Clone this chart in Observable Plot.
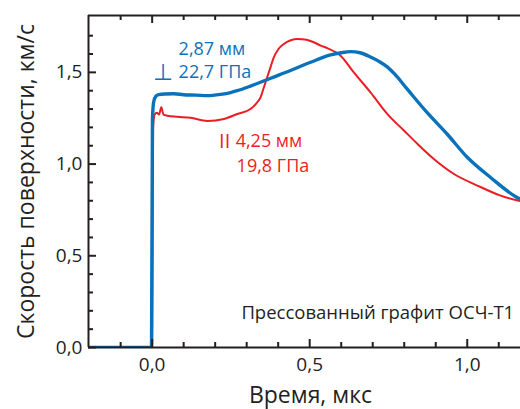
<!DOCTYPE html>
<html>
<head>
<meta charset="utf-8">
<script src="https://cdn.jsdelivr.net/npm/d3@7"></script>
<script src="https://cdn.jsdelivr.net/npm/@observablehq/plot@0.6"></script>
<style>
  html, body { margin: 0; padding: 0; background: #fff; }
  svg { display: block; }
</style>
</head>
<body>
<div id="chart"></div>
<script>
// ---- data ----
const blueTime = [-0.2, -0.1, -0.002, 0.001, 0.005, 0.012, 0.021, 0.04, 0.069, 0.1, 0.14, 0.175, 0.217, 0.249, 0.27, 0.312, 0.376, 0.439, 0.503, 0.566, 0.6, 0.63, 0.66, 0.693, 0.72, 0.746, 0.77, 0.809, 0.873, 0.936, 1.0, 1.074, 1.158, 1.18];
const blueVel  = [0, 0, 0, 1.25, 1.34, 1.37, 1.379, 1.382, 1.383, 1.378, 1.376, 1.373, 1.38, 1.39, 1.40, 1.425, 1.468, 1.51, 1.555, 1.595, 1.607, 1.613, 1.607, 1.584, 1.56, 1.53, 1.49, 1.41, 1.28, 1.164, 1.037, 0.927, 0.818, 0.80];

const redTime = [-0.2, -0.1, -0.003, 0.0, 0.003, 0.008, 0.015, 0.022, 0.029, 0.036, 0.048, 0.08, 0.122, 0.175, 0.228, 0.27, 0.312, 0.33, 0.344, 0.355, 0.365, 0.376, 0.386, 0.4, 0.418, 0.44, 0.461, 0.49, 0.513, 0.535, 0.556, 0.598, 0.64, 0.693, 0.746, 0.799, 0.842, 0.894, 0.958, 1.032, 1.106, 1.164, 1.18];
const redVel  = [0, 0, 0, 0.02, 1.2, 1.27, 1.28, 1.27, 1.31, 1.27, 1.264, 1.258, 1.252, 1.235, 1.246, 1.273, 1.30, 1.33, 1.364, 1.42, 1.473, 1.53, 1.582, 1.625, 1.655, 1.675, 1.682, 1.678, 1.664, 1.646, 1.632, 1.591, 1.50, 1.391, 1.274, 1.183, 1.11, 1.028, 0.946, 0.883, 0.828, 0.80, 0.795];

const xMajorTicks = [0.0, 0.5, 1.0];
const xMinorTicks = [-0.1, 0.1, 0.2, 0.3, 0.4, 0.6, 0.7, 0.8, 0.9, 1.1];
const yMajorTicks = [0.0, 0.5, 1.0, 1.5];
const yMinorTicks = [0.1, 0.2, 0.3, 0.4, 0.6, 0.7, 0.8, 0.9, 1.1, 1.2, 1.3, 1.4, 1.6, 1.7];

const xTitle = "Время, мкс";
const yTitle = "Скорость поверхности, км/с";
const blueLabels = ["2,87 мм", "22,7 ГПа"];
const blueSymbol = "⊥";
const redLabels = ["4,25 мм", "19,8 ГПа"];
const redSymbol = "II";
const sampleLabel = "Прессованный графит ОСЧ-Т1";

// ---- build ----
const blue = blueTime.map((t, i) => ({t, v: blueVel[i]}));
const red = redTime.map((t, i) => ({t, v: redVel[i]}));
const fmt = d => d.toFixed(1).replace(".", ",");

const X0 = -0.202, X1 = 1.169, Y0 = 0, Y1 = 1.81;
const axisColor = "#231f20";
const blueColor = "#0a72ba";
const redColor = "#ec1c24";
const frameW = 520 - 88, frameH = 409 - 62 - 15;

const chart = Plot.plot({
  width: 520,
  height: 409,
  marginLeft: 88,
  marginRight: 0,
  marginTop: 15,
  marginBottom: 62,
  x: {domain: [X0, X1]},
  y: {domain: [Y0, Y1]},
  style: {fontFamily: "'Open Sans', sans-serif", color: axisColor, background: "white"},
  marks: [
    Plot.axisX({ticks: xMajorTicks, tickFormat: fmt, tickSize: 0, tickPadding: 10, fontSize: 19, label: null}),
    Plot.axisY({ticks: yMajorTicks, tickFormat: fmt, tickSize: 0, tickPadding: 6, fontSize: 19, label: null}),
    // data lines
    Plot.line(red, {x: "t", y: "v", stroke: redColor, strokeWidth: 2, curve: "monotone-x", clip: true}),
    Plot.line(blue, {x: "t", y: "v", stroke: blueColor, strokeWidth: 3.4, curve: "monotone-x", clip: true}),
    // frame lines (left, top, bottom)
    Plot.ruleX([X0], {stroke: axisColor, strokeWidth: 2}),
    Plot.ruleY([Y1], {stroke: axisColor, strokeWidth: 2}),
    Plot.ruleY([Y0], {stroke: axisColor, strokeWidth: 2}),
    // inward ticks: bottom
    Plot.tickX(xMajorTicks, {x: d => d, insetTop: frameH - 8, stroke: axisColor, strokeWidth: 2}),
    Plot.tickX(xMinorTicks, {x: d => d, insetTop: frameH - 5, stroke: axisColor, strokeWidth: 2}),
    // inward ticks: top
    Plot.tickX(xMajorTicks, {x: d => d, insetBottom: frameH - 8, stroke: axisColor, strokeWidth: 2}),
    Plot.tickX(xMinorTicks, {x: d => d, insetBottom: frameH - 5, stroke: axisColor, strokeWidth: 2}),
    // inward ticks: left
    Plot.tickY(yMajorTicks, {y: d => d, insetRight: frameW - 8, stroke: axisColor, strokeWidth: 2}),
    Plot.tickY(yMinorTicks, {y: d => d, insetRight: frameW - 5, stroke: axisColor, strokeWidth: 2}),
    // annotations
    Plot.text([blueLabels[0]], {x: () => 0.084, y: () => 1.624, text: d => d, textAnchor: "start", fill: blueColor, fontSize: 18}),
    Plot.text([blueLabels[1]], {x: () => 0.084, y: () => 1.50, text: d => d, textAnchor: "start", fill: blueColor, fontSize: 18}),
    Plot.text([blueSymbol], {x: () => 0.034, y: () => 1.50, text: d => d, fill: blueColor, fontSize: 23}),
    Plot.text([redSymbol], {x: () => 0.23, y: () => 1.125, text: d => d, fill: redColor, fontSize: 20}),
    Plot.text([redLabels[0]], {x: () => 0.265, y: () => 1.125, text: d => d, textAnchor: "start", fill: redColor, fontSize: 18}),
    Plot.text([redLabels[1]], {x: () => 0.268, y: () => 0.988, text: d => d, textAnchor: "start", fill: redColor, fontSize: 18}),
    Plot.text([sampleLabel], {x: () => 1.149, y: () => 0.19, text: d => d, textAnchor: "end", fill: axisColor, fontSize: 18.5}),
    // axis titles
    Plot.text([xTitle], {frameAnchor: "bottom", text: d => d, textAnchor: "middle", lineAnchor: "middle", dx: 6, dy: 48, fontSize: 23, fill: axisColor}),
    Plot.text([yTitle], {frameAnchor: "left", text: d => d, textAnchor: "middle", lineAnchor: "middle", rotate: -90, dx: -62, dy: 0, fontSize: 23, fill: axisColor})
  ]
});
document.getElementById("chart").appendChild(chart);
</script>
</body>
</html>
